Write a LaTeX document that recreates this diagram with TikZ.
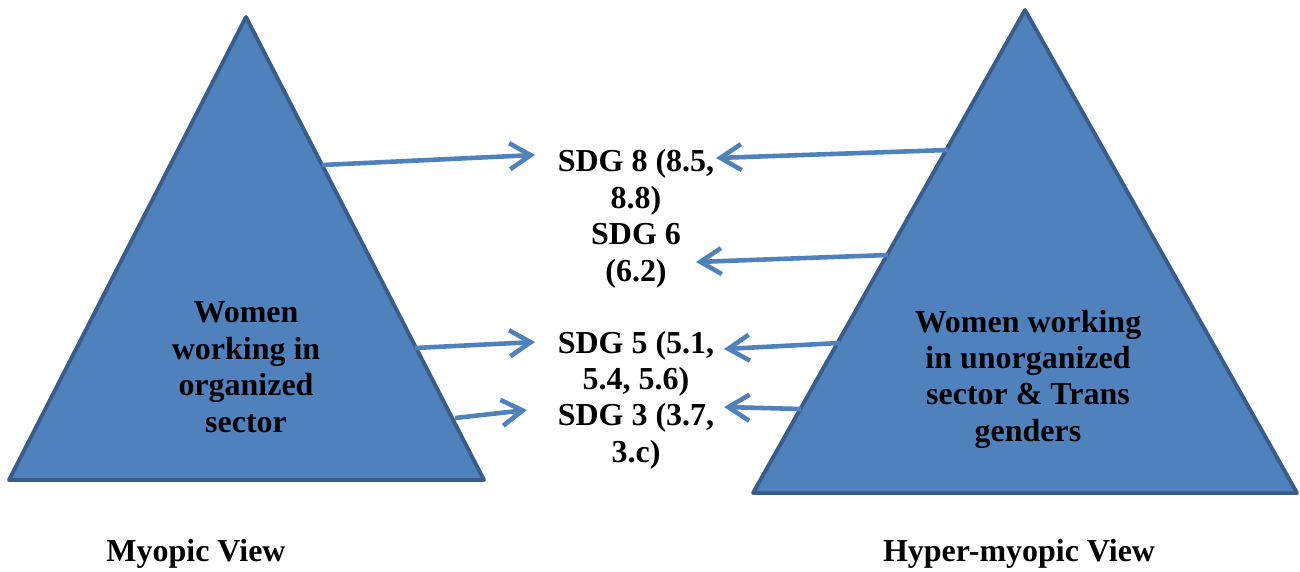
\documentclass[tikz,border=0pt]{standalone}
\usepackage{fontspec}
\setmainfont{Liberation Serif}[BoldFont={Liberation Serif Bold}]
\usetikzlibrary{arrows.meta}
\definecolor{triblue}{HTML}{4F81BD}
\definecolor{triedge}{HTML}{385D8A}
\tikzset{
  tri/.style={fill=triblue,draw=triedge,line width=2.2pt,line join=round},
  link/.style={draw=triblue,line width=2.6pt,-{Straight Barb[length=0.42cm,width=0.52cm,line width=2.6pt]}},
  txt/.style={anchor=base,inner sep=0pt,font=\fontsize{18.2}{20.7}\selectfont\bfseries}
}
\begin{document}
\begin{tikzpicture}[x=0.02cm,y=-0.02cm]
\useasboundingbox (0,0) rectangle (1300,571);
% Triangles
\coordinate (ltop) at (246,17); \coordinate (lbl) at (9,480); \coordinate (lbr) at (484,480);
\coordinate (rtop) at (1025,10); \coordinate (rbl) at (753,493); \coordinate (rbr) at (1297,493);
\draw[tri] (ltop) -- (lbr) -- (lbl) -- cycle;
\draw[tri] (rtop) -- (rbr) -- (rbl) -- cycle;
% Triangle texts
\foreach \t/\y [count=\i] in {Women/322,working in/359,organized/395,sector/432}
  \node[txt] (org\i) at (246,\y) {\t};
\foreach \t/\y [count=\i] in {Women working/332,in unorganized/368,sector \& Trans/404,genders/441}
  \node[txt] (unorg\i) at (1028,\y) {\t};
% SDG targets
\foreach \t/\y [count=\i] in {{SDG 8 (8.5,}/171,8.8)/208,SDG 6/244,(6.2)/281,{SDG 5 (5.1,}/353,{5.4, 5.6)}/389,{SDG 3 (3.7,}/425,3.c)/462}
  \node[txt] (sdg\i) at (636,\y) {\t};
% Arrow ends
\coordinate (a8l) at (322,165); \coordinate (b8l) at (535,155);
\coordinate (a8r) at (948,150); \coordinate (b8r) at (716,158);
\coordinate (a6r) at (888,255); \coordinate (b6r) at (696,262);
\coordinate (a5l) at (415,348); \coordinate (b5l) at (535,342);
\coordinate (a5r) at (840,343); \coordinate (b5r) at (724,349);
\coordinate (a3l) at (455,418); \coordinate (b3l) at (527,410);
\coordinate (a3r) at (801,409); \coordinate (b3r) at (724,407);
\draw[link] (a8l) -- (b8l);
\draw[link] (a8r) -- (b8r);
\draw[link] (a6r) -- (b6r);
\draw[link] (a5l) -- (b5l);
\draw[link] (a5r) -- (b5r);
\draw[link] (a3l) -- (b3l);
\draw[link] (a3r) -- (b3r);
% Views
\node[txt] (myopic) at (196,561) {Myopic View};
\node[txt] (hyper) at (1019,561) {Hyper-myopic View};
\end{tikzpicture}
\end{document}
